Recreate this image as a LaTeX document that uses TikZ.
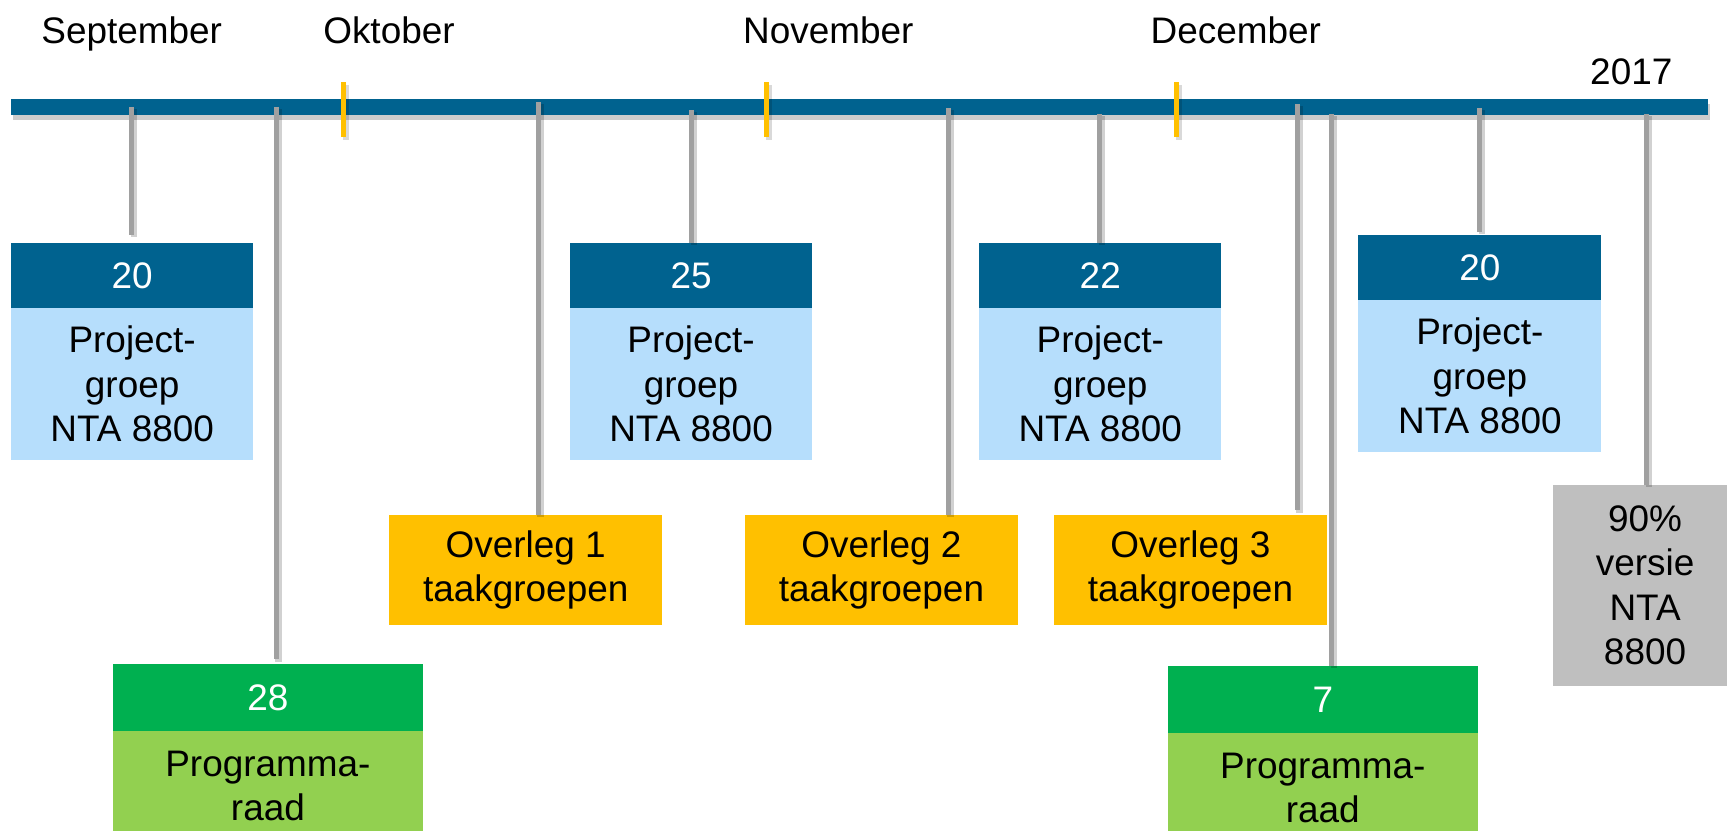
\documentclass[tikz,border=0pt]{standalone}
\usepackage{fontspec}
\setmainfont{Liberation Sans}
\definecolor{tlblue}{RGB}{0,98,143}
\definecolor{lblue}{RGB}{182,222,252}
\definecolor{tlorange}{RGB}{255,192,0}
\definecolor{dgreen}{RGB}{0,176,80}
\definecolor{lgreen}{RGB}{146,208,80}
\definecolor{gbox}{RGB}{191,191,191}
\definecolor{lgrey}{RGB}{160,160,160}
\begin{document}
\begin{tikzpicture}[x=0.01cm, y=-0.01cm,
  font=\fontsize{10.5}{12.66}\selectfont,
  blk/.style 2 args={anchor=north west, inner sep=0pt, outer sep=0pt, align=center,
    minimum width=#1, minimum height=#2},
  month/.style={anchor=base west, inner sep=0pt},
  conn/.style={draw=lgrey, line width=1.42pt,
    preaction={draw=black, opacity=0.18, line width=1.8pt,
      transform canvas={xshift=0.7pt, yshift=-0.7pt}}},
  ytick/.style={draw=tlorange, line width=1.42pt,
    preaction={draw=black, opacity=0.15, line width=1.8pt,
      transform canvas={xshift=0.7pt, yshift=-0.9pt}}},
  head/.style={fill=#1, text=white},
  body/.style={fill=#1, text=black}
]
\useasboundingbox (0,0) rectangle (1727,831);

% month labels
\node[month] (sep) at (40.7,43.3) {September};
\node[month] (okt) at (322.6,43.3) {Oktober};
\node[month] (nov) at (742.4,43.3) {November};
\node[month] (dec) at (1150,43.3) {December};
\node[month] (y17) at (1589.5,85) {2017};

% timeline bar
\node[blk={16.96cm}{0.16cm}, fill=tlblue,
  preaction={fill=black, opacity=0.2, transform canvas={xshift=0.6pt, yshift=-1.3pt}}]
  (bar) at (11,99) {};

% boxes
\node[blk={2.42cm}{0.647cm}, head=tlblue] (h1) at (11.1,243) {20};
\node[blk={2.42cm}{1.523cm}, body=lblue] (b1) at (h1.south west) {Project-\\groep\\NTA 8800};

\node[blk={2.42cm}{0.647cm}, head=tlblue] (h2) at (570,243) {25};
\node[blk={2.42cm}{1.523cm}, body=lblue] (b2) at (h2.south west) {Project-\\groep\\NTA 8800};

\node[blk={2.42cm}{0.647cm}, head=tlblue] (h3) at (979.2,243) {22};
\node[blk={2.42cm}{1.523cm}, body=lblue] (b3) at (h3.south west) {Project-\\groep\\NTA 8800};

\node[blk={2.43cm}{0.65cm}, head=tlblue] (h4) at (1358.3,235) {20};
\node[blk={2.43cm}{1.517cm}, body=lblue] (b4) at (h4.south west) {Project-\\groep\\NTA 8800};

\node[blk={2.729cm}{1.097cm}, body=tlorange] (o1) at (389.2,515) {Overleg 1\\taakgroepen};
\node[blk={2.727cm}{1.097cm}, body=tlorange] (o2) at (745,515) {Overleg 2\\taakgroepen};
\node[blk={2.729cm}{1.097cm}, body=tlorange] (o3) at (1053.9,515) {Overleg 3\\taakgroepen};

\node[blk={3.101cm}{0.67cm}, head=dgreen] (h5) at (112.8,664) {28};
\node[blk={3.101cm}{1.1cm}, body=lgreen] (b5) at (h5.south west) {Programma-\\raad};

\node[blk={3.096cm}{0.667cm}, head=dgreen] (h6) at (1167.9,666) {7};
\node[blk={3.096cm}{1.1cm}, body=lgreen] (b6) at (h6.south west) {Programma-\\raad};

\node[blk={1.84cm}{2.007cm}, body=gbox] (g1) at (1553,485) {90\%\\versie\\NTA\\8800};

% connectors
\coordinate (p1) at (131.7,107);
\coordinate (p2) at (276,107);
\coordinate (p3) at (538,102);
\coordinate (p4) at (691.3,110);
\coordinate (p5) at (948,108);
\coordinate (p6) at (1099.8,114);
\coordinate (p7) at (1297,104);
\coordinate (p8) at (1331.6,114);
\coordinate (p9) at (1479.3,108);
\coordinate (p10) at (1646.5,114);

\draw[conn, shorten >=2.3pt] (p1) -- (p1 |- h1.north);
\draw[conn, shorten >=1.4pt] (p2) -- (p2 |- h5.north);
\draw[conn] (p3) -- (p3 |- o1.north);
\draw[conn] (p4) -- (p4 |- h2.north);
\draw[conn] (p5) -- (p5 |- o2.north);
\draw[conn] (p6) -- (p6 |- h3.north);
\draw[conn, shorten >=1.4pt] (p7) -- (p7 |- o3.north);
\draw[conn] (p8) -- (p8 |- h6.north);
\draw[conn, shorten >=0.9pt] (p9) -- (p9 |- h4.north);
\draw[conn] (p10) -- (p10 |- g1.north);

% month ticks
\draw[ytick] (343.3,82.3) -- (343.3,136.7);
\draw[ytick] (766.8,82.3) -- (766.8,136.7);
\draw[ytick] (1176.3,82.3) -- (1176.3,136.7);
\end{tikzpicture}
\end{document}
